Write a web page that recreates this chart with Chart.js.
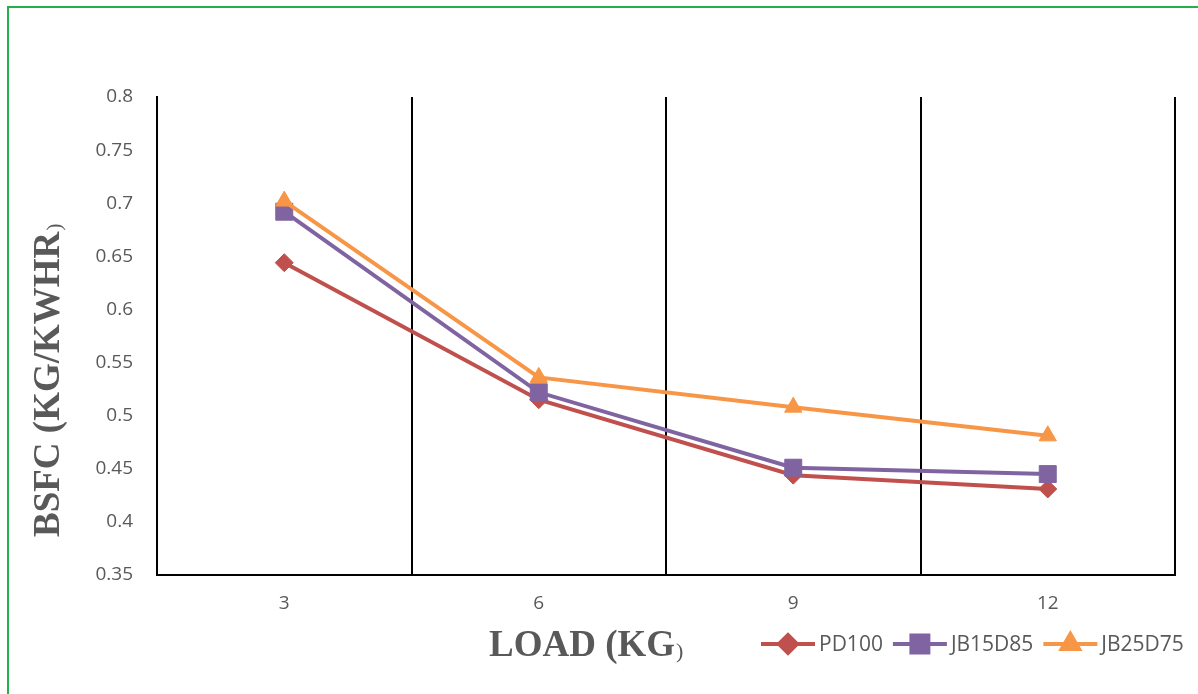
<!DOCTYPE html>
<html>
<head>
<meta charset="utf-8">
<title>BSFC vs Load</title>
<script src="https://cdn.jsdelivr.net/npm/chart.js@4.4.0/dist/chart.umd.min.js"></script>
<style>
    html, body { margin: 0; padding: 0; background: #fff; overflow: hidden; }
    #wrap { position: relative; width: 1198px; height: 694px; }
    #frame {
        position: absolute; left: 7px; top: 6px; right: -10px; bottom: -10px;
        border-top: 2px solid #22b24c; border-left: 2px solid #22b24c;
    }
    #chart { position: absolute; left: 0; top: 0; }
</style>
</head>
<body>
<div id="wrap">
    <div id="frame"></div>
    <canvas id="chart" width="1198" height="694"></canvas>
</div>
<script>
// Load steps (kg) and brake specific fuel consumption (kg/kWh)
const loads = ['3', '6', '9', '12'];
const pd100 = [0.644, 0.515, 0.444, 0.431];
const jb15d85 = [0.692, 0.522, 0.451, 0.445];
const jb25d75 = [0.702, 0.536, 0.508, 0.481];

const yMin = 0.35;
const yMax = 0.8;
const yStep = 0.05;

const textGrey = '#595959';

function series(label, data, color, style, radius, order) {
    return {
        label: label,
        data: data,
        borderColor: color,
        backgroundColor: color,
        borderWidth: 4,
        pointStyle: style,
        pointRadius: radius,
        pointHoverRadius: radius,
        pointBorderWidth: 1,
        tension: 0,
        order: order
    };
}

// axis titles and the line+marker legend
const chartExtras = {
    id: 'chartExtras',
    afterDraw(chart) {
        const ctx = chart.ctx;
        const area = chart.chartArea;
        ctx.save();
        ctx.fillStyle = textGrey;
        ctx.textBaseline = 'alphabetic';
        ctx.textAlign = 'left';

        // y title, rotated
        ctx.save();
        ctx.translate(area.left - 98, area.bottom - 38);
        ctx.rotate(-Math.PI / 2);
        ctx.font = 'bold 37px "Liberation Serif", "Times New Roman", serif';
        const yText = 'BSFC (KG/KWHR';
        ctx.fillText(yText, 0, 0);
        const yw = ctx.measureText(yText).width;
        ctx.font = '22px "Liberation Serif", "Times New Roman", serif';
        ctx.fillText(')', yw + 1, 2);
        ctx.restore();

        // x title
        ctx.font = 'bold 37px "Liberation Serif", "Times New Roman", serif';
        const xText = 'LOAD (KG';
        const xStart = area.left + 332;
        const xBase = area.bottom + 81;
        ctx.fillText(xText, xStart, xBase);
        const xw = ctx.measureText(xText).width;
        ctx.font = '22px "Liberation Serif", "Times New Roman", serif';
        ctx.fillText(')', xStart + xw + 1, xBase + 2);

        // legend
        ctx.font = '21px "Open Sans", sans-serif';
        ctx.textBaseline = 'middle';
        let x = 761;
        const y = 644;
        chart.data.datasets.forEach(ds => {
            ctx.strokeStyle = ds.borderColor;
            ctx.lineWidth = 4;
            ctx.beginPath();
            ctx.moveTo(x, y);
            ctx.lineTo(x + 54, y);
            ctx.stroke();
            ctx.fillStyle = ds.backgroundColor;
            Chart.helpers.drawPoint(ctx, {
                pointStyle: ds.pointStyle,
                radius: ds.pointRadius,
                rotation: 0,
                borderWidth: 1
            }, x + 27, y);
            ctx.fillStyle = textGrey;
            ctx.fillText(ds.label, x + 58, y + 1);
            x += 58 + ctx.measureText(ds.label).width + 10;
        });
        ctx.restore();
    }
};

const ctx = document.getElementById('chart').getContext('2d');
const chart = new Chart(ctx, {
    type: 'line',
    data: {
        labels: loads,
        datasets: [
            series('PD100', pd100, '#C0504D', 'rectRot', 9, 3),
            series('JB15D85', jb15d85, '#8064A2', 'rect', 12, 2),
            series('JB25D75', jb25d75, '#F79646', 'triangle', 10, 1)
        ]
    },
    options: {
        responsive: false,
        animation: false,
        layout: { padding: { left: 0, top: 97, right: 23, bottom: 0 } },
        plugins: {
            legend: { display: false },
            tooltip: { enabled: false }
        },
        scales: {
            x: {
                offset: true,
                grid: { offset: true, color: '#000', lineWidth: 2, drawTicks: false },
                border: { display: true, color: '#000', width: 2 },
                ticks: {
                    color: textGrey,
                    font: { family: 'Open Sans', size: 19 },
                    padding: 17
                },
                afterFit(scale) { scale.height = 119; }
            },
            y: {
                min: yMin,
                max: yMax,
                grid: { display: false, drawTicks: false },
                border: { display: true, color: '#000', width: 2 },
                ticks: {
                    stepSize: yStep,
                    color: textGrey,
                    font: { family: 'Open Sans', size: 19 },
                    padding: 24,
                    callback: v => String(Number(v.toFixed(2)))
                },
                afterFit(scale) { scale.width = 157; }
            }
        }
    },
    plugins: [chartExtras]
});
</script>
</body>
</html>
